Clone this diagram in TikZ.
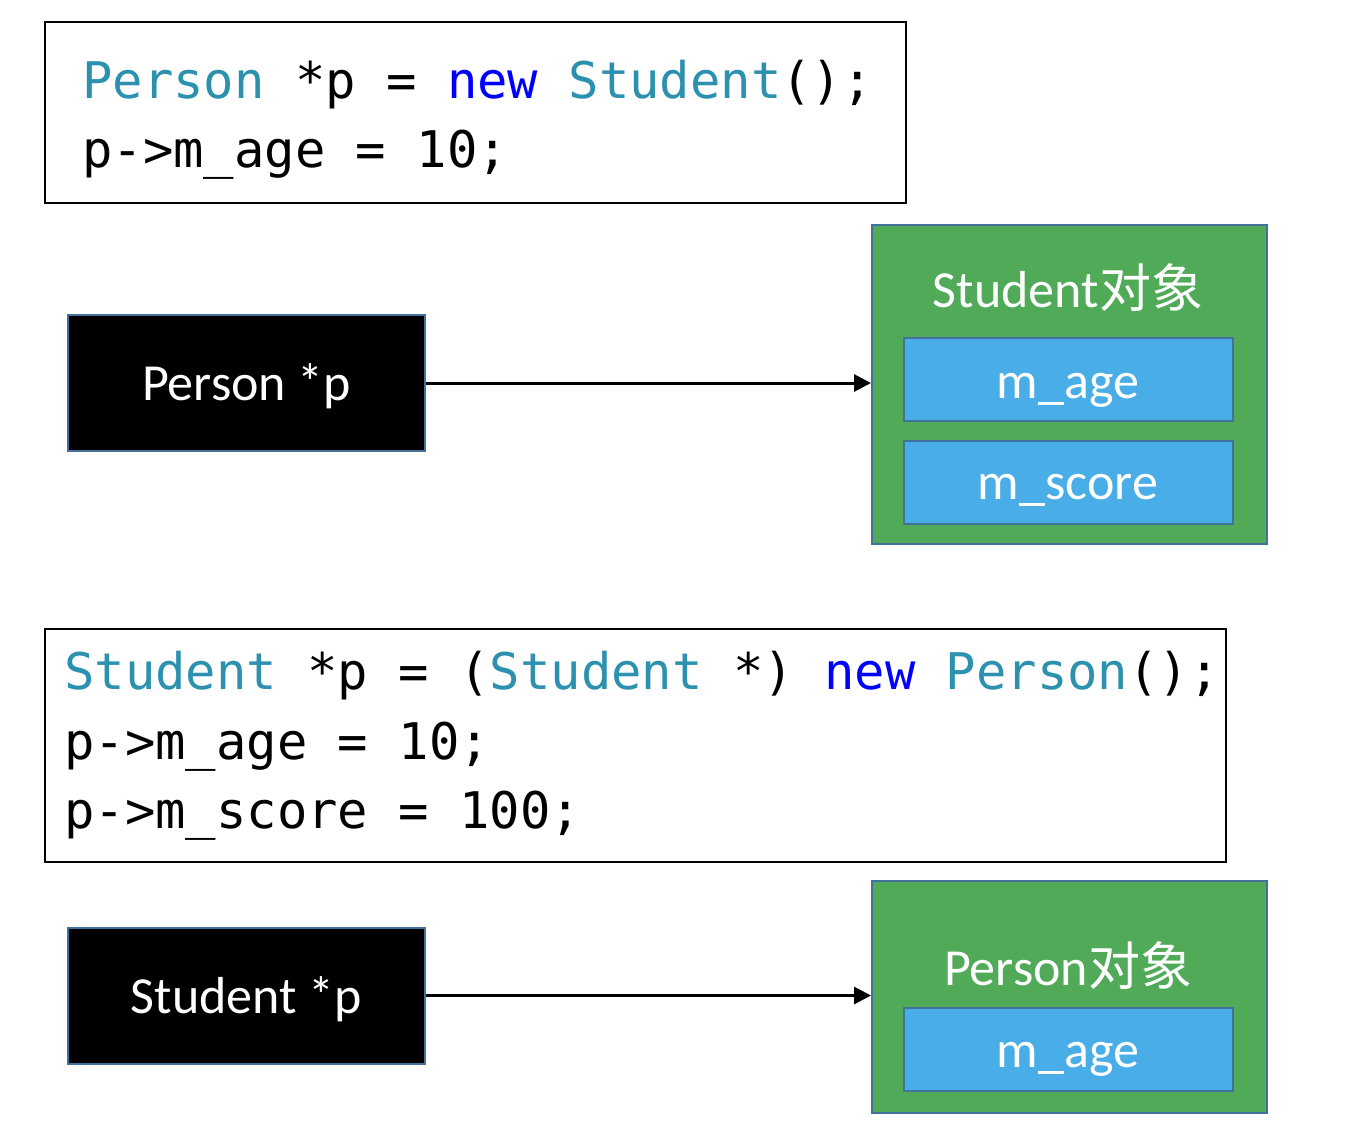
\documentclass[tikz,border=0pt]{standalone}
\usepackage{fontspec}
\setmainfont{Carlito}
\newfontfamily\codefont{DejaVu Sans Mono}
\newfontfamily\cjk{Noto Sans CJK SC}
\usetikzlibrary{arrows.meta}
\definecolor{typec}{HTML}{2B91AF}
\definecolor{kwc}{HTML}{0000FF}
\definecolor{greenfill}{HTML}{50AA58}
\definecolor{bluefill}{HTML}{49ADE7}
\definecolor{edgec}{HTML}{41719C}
\tikzset{
  codebox/.style={draw=black, line width=1.5pt, fill=white, inner sep=0pt, anchor=north west},
  codeline/.style={anchor=base west, inner sep=0pt, font=\codefont\fontsize{50.5}{60}\selectfont},
  ptrbox/.style={draw=edgec, line width=2pt, fill=black, inner sep=0pt,
     minimum width=357pt, minimum height=136pt},
  objbox/.style={draw=edgec, line width=2pt, fill=greenfill, inner sep=0pt, anchor=north west},
  fieldbox/.style={draw=edgec, line width=2pt, fill=bluefill, inner sep=0pt,
     minimum width=329pt, minimum height=83pt},
  label/.style={text=white, inner sep=0pt, anchor=base, font=\fontsize{52}{62}\selectfont},
  ptrarrow/.style={draw=black, line width=3pt, -{Triangle[length=17pt,width=17pt]}},
}
\newcommand{\tyc}[1]{\textcolor{typec}{#1}}
\newcommand{\kwc}[1]{\textcolor{kwc}{#1}}
\begin{document}
\begin{tikzpicture}[x=1pt,y=-1pt]
\useasboundingbox[fill=white] (0,0) rectangle (1364,1130);

% top code box
\node[codebox, minimum width=861pt, minimum height=181pt] (code1) at (44,21) {};
\node[codeline] (c1l1) at (82,98) {\tyc{Person} *p = \kwc{new} \tyc{Student}();};
\node[codeline] (c1l2) at (82,167) {p->m\_age = 10;};

% pointer and object (top)
\node[ptrbox] (pp) at (246.5,383) {};
\node[label] (pplabel) at (246.5,400) {Person *p};
\node[objbox, minimum width=395pt, minimum height=319pt] (sobj) at (871,224) {};
\node[label] (stitle) at (1068,307) {Student{\cjk 对象}};
\node[fieldbox] (sage) at (1068,379.5) {};
\node[label] (sagelabel) at (1068,398) {m\_age};
\node[fieldbox] (sscore) at (1068,482.5) {};
\node[label] (sscorelabel) at (1068,499) {m\_score};
\draw[ptrarrow] (pp.east) -- (sobj.west |- pp.east);

% bottom code box
\node[codebox, minimum width=1181pt, minimum height=233pt] (code2) at (44,628) {};
\node[codeline] (c2l1) at (64,689) {\tyc{Student} *p = (\tyc{Student} *) \kwc{new} \tyc{Person}();};
\node[codeline] (c2l2) at (64,759) {p->m\_age = 10;};
\node[codeline] (c2l3) at (64,828) {p->m\_score = 100;};

% pointer and object (bottom)
\node[ptrbox] (sp) at (246.5,995.5) {};
\node[label] (splabel) at (246.5,1013) {Student *p};
\node[objbox, minimum width=395pt, minimum height=232pt] (pobj) at (871,880) {};
\node[label] (ptitle) at (1068,985) {Person{\cjk 对象}};
\node[fieldbox] (page) at (1068,1049) {};
\node[label] (pagelabel) at (1068,1067) {m\_age};
\draw[ptrarrow] (sp.east) -- (pobj.west |- sp.east);
\end{tikzpicture}
\end{document}
